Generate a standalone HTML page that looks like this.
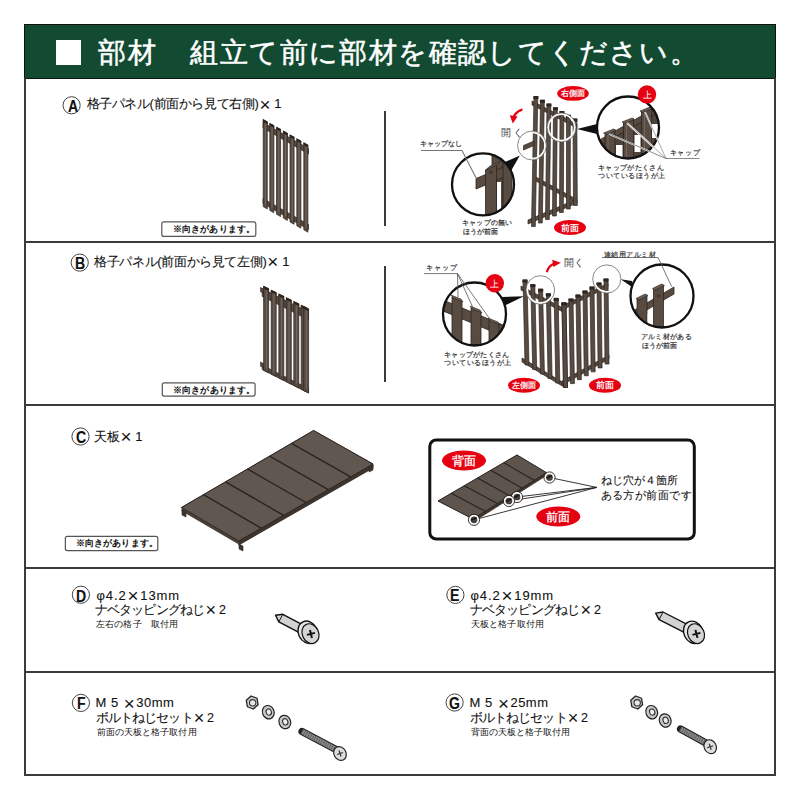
<!DOCTYPE html>
<html lang="ja"><head><meta charset="utf-8">
<style>
html,body{margin:0;padding:0;background:#fff;}
body{width:800px;height:800px;position:relative;overflow:hidden;font-family:"Liberation Sans",sans-serif;color:#231815;}
.a{position:absolute;white-space:nowrap;line-height:1;-webkit-text-stroke:0.1px currentColor;}
.x{font-size:1.45em;vertical-align:-0.12em;margin:0 1px;line-height:0;-webkit-text-stroke:0;}
.hl{position:absolute;background:#3e3a39;height:2px;}
.vl{position:absolute;background:#3e3a39;width:2px;}
.hdr{position:absolute;left:24px;top:24px;width:750px;height:53px;background:#124b32;border:1px solid #111;}
.sq{position:absolute;left:56px;top:40px;width:25px;height:25px;background:#fff;}
.ttl{position:absolute;left:98px;top:39px;font-size:28px;letter-spacing:1.6px;color:#fff;-webkit-text-stroke:0.5px #fff;line-height:1;white-space:nowrap;}
.circ{position:absolute;width:17px;height:17px;border:1px solid #555;border-radius:50%;font-weight:bold;font-size:15px;text-align:center;line-height:17px;color:#111;}
.note{position:absolute;border:1px solid #444;border-radius:2px;width:93px;height:14px;font-size:9px;font-weight:bold;line-height:14px;text-align:center;}
</style></head><body>
<div class="hdr"></div>
<div class="sq"></div>
<div class="ttl">部材　<span style="margin-left:3.5px;letter-spacing:1.4px">組立て前に部材を確認してください。</span></div>
<div class="vl" style="left:24px;top:78px;height:698px;"></div>
<div class="vl" style="left:774px;top:78px;height:698px;"></div>
<div class="hl" style="left:24px;top:241px;width:752px;"></div>
<div class="hl" style="left:24px;top:404px;width:752px;"></div>
<div class="hl" style="left:24px;top:567px;width:752px;"></div>
<div class="hl" style="left:24px;top:671px;width:752px;"></div>
<div class="hl" style="left:24px;top:774px;width:752px;"></div>
<div class="vl" style="left:399px;top:568px;height:207px;background:#595757;z-index:-1;"></div>
<div class="vl" style="left:384px;top:111px;height:115px;"></div>
<div class="vl" style="left:384px;top:266px;height:116px;"></div>
<svg width="800" height="800" style="position:absolute;left:0;top:0"><polygon points="263.00,122.50 308.50,148.53 308.50,154.03 263.00,128.00" fill="#574b42" stroke="#2e2520" stroke-width="0.7" /><polygon points="263.00,198.50 308.50,224.53 308.50,229.53 263.00,203.50" fill="#574b42" stroke="#2e2520" stroke-width="0.7" /><polygon points="263.20,119.61 267.30,121.96 267.30,208.96 263.20,206.61" fill="#574b42" stroke="#2e2520" stroke-width="0.7" /><line x1="265.45" y1="121.61" x2="265.45" y2="204.61" stroke="#7d7068" stroke-width="0.8"/><polygon points="262.90,119.11 267.60,121.46 267.60,124.16 262.90,121.81" fill="#2e2520" /><polygon points="269.80,123.39 273.90,125.73 273.90,212.73 269.80,210.39" fill="#574b42" stroke="#2e2520" stroke-width="0.7" /><line x1="272.06" y1="125.39" x2="272.06" y2="208.39" stroke="#7d7068" stroke-width="0.8"/><polygon points="269.50,122.89 274.20,125.23 274.20,127.93 269.50,125.59" fill="#2e2520" /><polygon points="276.50,127.22 280.60,129.57 280.60,216.57 276.50,214.22" fill="#574b42" stroke="#2e2520" stroke-width="0.7" /><line x1="278.75" y1="129.22" x2="278.75" y2="212.22" stroke="#7d7068" stroke-width="0.8"/><polygon points="276.20,126.72 280.90,129.07 280.90,131.77 276.20,129.42" fill="#2e2520" /><polygon points="283.30,131.11 287.40,133.46 287.40,220.46 283.30,218.11" fill="#574b42" stroke="#2e2520" stroke-width="0.7" /><line x1="285.56" y1="133.11" x2="285.56" y2="216.11" stroke="#7d7068" stroke-width="0.8"/><polygon points="283.00,130.61 287.70,132.96 287.70,135.66 283.00,133.31" fill="#2e2520" /><polygon points="290.00,134.94 294.10,137.29 294.10,224.29 290.00,221.94" fill="#574b42" stroke="#2e2520" stroke-width="0.7" /><line x1="292.25" y1="136.94" x2="292.25" y2="219.94" stroke="#7d7068" stroke-width="0.8"/><polygon points="289.70,134.44 294.40,136.79 294.40,139.49 289.70,137.14" fill="#2e2520" /><polygon points="296.80,138.83 300.90,141.18 300.90,228.18 296.80,225.83" fill="#574b42" stroke="#2e2520" stroke-width="0.7" /><line x1="299.06" y1="140.83" x2="299.06" y2="223.83" stroke="#7d7068" stroke-width="0.8"/><polygon points="296.50,138.33 301.20,140.68 301.20,143.38 296.50,141.03" fill="#2e2520" /><polygon points="303.80,142.84 307.90,145.18 307.90,232.18 303.80,229.84" fill="#574b42" stroke="#2e2520" stroke-width="0.7" /><line x1="306.06" y1="144.84" x2="306.06" y2="227.84" stroke="#7d7068" stroke-width="0.8"/><polygon points="303.50,142.34 308.20,144.68 308.20,147.38 303.50,145.04" fill="#2e2520" />
<polygon points="262.20,288.60 308.50,311.98 308.50,319.78 262.20,296.40" fill="#574b42" stroke="#2e2520" stroke-width="0.7" /><polygon points="262.20,365.20 308.50,388.58 308.50,392.98 262.20,369.60" fill="#574b42" stroke="#2e2520" stroke-width="0.7" /><polygon points="260.50,287.50 264.00,289.30 264.00,293.50 260.50,291.70" fill="#574b42" stroke="#2e2520" stroke-width="0.6" /><polygon points="260.50,362.00 264.00,363.80 264.00,368.00 260.50,366.20" fill="#574b42" stroke="#2e2520" stroke-width="0.6" /><polygon points="263.60,286.31 268.60,288.83 268.60,372.83 263.60,370.31" fill="#574b42" stroke="#2e2520" stroke-width="0.7" /><line x1="266.35" y1="288.31" x2="266.35" y2="368.31" stroke="#7d7068" stroke-width="0.8"/><polygon points="263.30,285.81 268.90,288.33 268.90,291.03 263.30,288.51" fill="#2e2520" /><polygon points="271.20,290.15 276.20,292.67 276.20,376.67 271.20,374.15" fill="#574b42" stroke="#2e2520" stroke-width="0.7" /><line x1="273.95" y1="292.15" x2="273.95" y2="372.15" stroke="#7d7068" stroke-width="0.8"/><polygon points="270.90,289.65 276.50,292.17 276.50,294.87 270.90,292.35" fill="#2e2520" /><polygon points="278.80,293.98 283.80,296.51 283.80,380.51 278.80,377.98" fill="#574b42" stroke="#2e2520" stroke-width="0.7" /><line x1="281.55" y1="295.98" x2="281.55" y2="375.98" stroke="#7d7068" stroke-width="0.8"/><polygon points="278.50,293.48 284.10,296.01 284.10,298.71 278.50,296.18" fill="#2e2520" /><polygon points="286.30,297.77 291.30,300.30 291.30,384.30 286.30,381.77" fill="#574b42" stroke="#2e2520" stroke-width="0.7" /><line x1="289.05" y1="299.77" x2="289.05" y2="379.77" stroke="#7d7068" stroke-width="0.8"/><polygon points="286.00,297.27 291.60,299.80 291.60,302.50 286.00,299.97" fill="#2e2520" /><polygon points="293.80,301.56 298.80,304.08 298.80,388.08 293.80,385.56" fill="#574b42" stroke="#2e2520" stroke-width="0.7" /><line x1="296.55" y1="303.56" x2="296.55" y2="383.56" stroke="#7d7068" stroke-width="0.8"/><polygon points="293.50,301.06 299.10,303.58 299.10,306.28 293.50,303.76" fill="#2e2520" /><polygon points="301.20,305.30 306.20,307.82 306.20,391.82 301.20,389.30" fill="#574b42" stroke="#2e2520" stroke-width="0.7" /><line x1="303.95" y1="307.30" x2="303.95" y2="387.30" stroke="#7d7068" stroke-width="0.8"/><polygon points="300.90,304.80 306.50,307.32 306.50,310.02 300.90,307.50" fill="#2e2520" /><polygon points="303.60,306.51 308.60,309.03 308.60,393.03 303.60,390.51" fill="#574b42" stroke="#2e2520" stroke-width="0.7" /><line x1="306.35" y1="308.51" x2="306.35" y2="388.51" stroke="#7d7068" stroke-width="0.8"/><polygon points="303.30,306.01 308.90,308.53 308.90,311.23 303.30,308.71" fill="#2e2520" />
<polygon points="181.50,507.50 238.80,541.00 238.80,545.00 373.00,468.00 373.00,464.00 313.60,430.50" fill="#3d342e" stroke="#2e2520" stroke-width="0.8" />
<polygon points="181.50,507.50 181.50,511.00 238.80,544.50 238.80,541.00" fill="#4a403a" />
<polygon points="181.50,507.50 313.60,430.50 373.00,464.00 238.80,541.00" fill="#605750" stroke="#2e2520" stroke-width="0.9" />
<line x1="203.52" y1="494.67" x2="261.17" y2="528.17" stroke="#2a2320" stroke-width="1.4"/>
<line x1="225.53" y1="481.83" x2="283.53" y2="515.33" stroke="#2a2320" stroke-width="1.4"/>
<line x1="247.55" y1="469.00" x2="305.90" y2="502.50" stroke="#2a2320" stroke-width="1.4"/>
<line x1="269.57" y1="456.17" x2="328.27" y2="489.67" stroke="#2a2320" stroke-width="1.4"/>
<line x1="291.58" y1="443.33" x2="350.63" y2="476.83" stroke="#2a2320" stroke-width="1.4"/>
<polygon points="182.00,510.00 186.00,512.00 186.00,517.00 182.00,515.00" fill="#3d342e" stroke="#2e2520" stroke-width="0.6" />
<polygon points="239.00,544.00 243.00,546.00 243.00,551.00 239.00,549.00" fill="#3d342e" stroke="#2e2520" stroke-width="0.6" />
<polygon points="369.00,467.00 373.00,465.00 373.00,470.00 369.00,472.00" fill="#3d342e" stroke="#2e2520" stroke-width="0.6" />
<rect x="429.8" y="440" width="264.5" height="99" rx="6.5" fill="none" stroke="#111" stroke-width="3"/>
<polygon points="438.10,501.00 473.00,519.00 473.00,522.00 546.30,475.60 546.30,472.60 517.00,455.00" fill="#3d342e" stroke="#2e2520" stroke-width="0.7" />
<polygon points="438.10,501.00 517.00,455.00 546.30,472.60 473.00,519.00" fill="#5d544e" stroke="#2e2520" stroke-width="0.8" />
<line x1="451.25" y1="493.33" x2="485.22" y2="511.27" stroke="#2a2320" stroke-width="1.2"/>
<line x1="464.40" y1="485.67" x2="497.43" y2="503.53" stroke="#2a2320" stroke-width="1.2"/>
<line x1="477.55" y1="478.00" x2="509.65" y2="495.80" stroke="#2a2320" stroke-width="1.2"/>
<line x1="490.70" y1="470.33" x2="521.87" y2="488.07" stroke="#2a2320" stroke-width="1.2"/>
<line x1="503.85" y1="462.67" x2="534.08" y2="480.33" stroke="#2a2320" stroke-width="1.2"/>
<line x1="549.5" y1="477.5" x2="596.8" y2="487.4" stroke="#222" stroke-width="0.9"/>
<line x1="517" y1="497" x2="596.8" y2="487.4" stroke="#222" stroke-width="0.9"/>
<line x1="508.9" y1="501" x2="596.8" y2="487.4" stroke="#222" stroke-width="0.9"/>
<line x1="474" y1="519.8" x2="596.8" y2="487.4" stroke="#222" stroke-width="0.9"/>
<circle cx="549.5" cy="477.5" r="4.3" fill="#4a403a" stroke="#fff" stroke-width="1.9"/>
<path d="M546.5,478.0 L552.0,475.5" stroke="#1d1714" stroke-width="1.6"/>
<circle cx="549.5" cy="477.5" r="5.6" fill="none" stroke="#222" stroke-width="0.9"/>
<circle cx="517" cy="497" r="4.3" fill="#4a403a" stroke="#fff" stroke-width="1.9"/>
<path d="M514,497.5 L519.5,495" stroke="#1d1714" stroke-width="1.6"/>
<circle cx="517" cy="497" r="5.6" fill="none" stroke="#222" stroke-width="0.9"/>
<circle cx="508.9" cy="501" r="4.3" fill="#4a403a" stroke="#fff" stroke-width="1.9"/>
<path d="M505.9,501.5 L511.4,499" stroke="#1d1714" stroke-width="1.6"/>
<circle cx="508.9" cy="501" r="5.6" fill="none" stroke="#222" stroke-width="0.9"/>
<circle cx="474" cy="519.8" r="4.3" fill="#4a403a" stroke="#fff" stroke-width="1.9"/>
<path d="M471,520.3 L476.5,517.8" stroke="#1d1714" stroke-width="1.6"/>
<circle cx="474" cy="519.8" r="5.6" fill="none" stroke="#222" stroke-width="0.9"/>
<ellipse cx="464" cy="460.5" rx="22" ry="10" fill="#e50012"/>
<text x="464" y="464.8" font-family="Liberation Sans, sans-serif" font-size="12" fill="#fff" stroke="#fff" stroke-width="0.3" text-anchor="middle">背面</text>
<ellipse cx="558.3" cy="516.5" rx="22" ry="10" fill="#e50012"/>
<text x="558.3" y="520.8" font-family="Liberation Sans, sans-serif" font-size="12" fill="#fff" stroke="#fff" stroke-width="0.3" text-anchor="middle">前面</text>
<polygon points="532.00,101.00 577.00,124.00 577.00,128.00 532.00,105.00" fill="#574b42" stroke="#2e2520" stroke-width="0.7" /><polygon points="534.00,176.00 576.00,199.00 576.00,203.00 534.00,180.00" fill="#574b42" stroke="#2e2520" stroke-width="0.7" /><polygon points="528.00,220.00 577.00,199.00 577.00,203.00 528.00,224.00" fill="#574b42" stroke="#2e2520" stroke-width="0.7" /><polygon points="534.00,96.50 537.80,96.50 535.30,226.50 531.50,226.50" fill="#574b42" stroke="#2e2520" stroke-width="0.7" /><polygon points="533.40,96.00 538.40,96.00 538.40,99.00 533.40,99.00" fill="#2e2520" /><polygon points="540.50,100.25 544.30,100.25 542.30,223.00 538.50,223.00" fill="#574b42" stroke="#2e2520" stroke-width="0.7" /><polygon points="539.90,99.75 544.90,99.75 544.90,102.75 539.90,102.75" fill="#2e2520" /><polygon points="547.00,104.00 550.80,104.00 549.30,219.50 545.50,219.50" fill="#574b42" stroke="#2e2520" stroke-width="0.7" /><polygon points="546.40,103.50 551.40,103.50 551.40,106.50 546.40,106.50" fill="#2e2520" /><polygon points="553.50,107.75 557.30,107.75 556.30,216.00 552.50,216.00" fill="#574b42" stroke="#2e2520" stroke-width="0.7" /><polygon points="552.90,107.25 557.90,107.25 557.90,110.25 552.90,110.25" fill="#2e2520" /><polygon points="560.00,111.50 563.80,111.50 563.30,212.50 559.50,212.50" fill="#574b42" stroke="#2e2520" stroke-width="0.7" /><polygon points="559.40,111.00 564.40,111.00 564.40,114.00 559.40,114.00" fill="#2e2520" /><polygon points="566.50,115.25 570.30,115.25 570.30,209.00 566.50,209.00" fill="#574b42" stroke="#2e2520" stroke-width="0.7" /><polygon points="565.90,114.75 570.90,114.75 570.90,117.75 565.90,117.75" fill="#2e2520" /><polygon points="573.00,119.00 576.80,119.00 577.30,205.50 573.50,205.50" fill="#574b42" stroke="#2e2520" stroke-width="0.7" /><polygon points="572.40,118.50 577.40,118.50 577.40,121.50 572.40,121.50" fill="#2e2520" />
<polygon points="521.00,286.00 563.00,308.00 563.00,312.00 521.00,290.00" fill="#574b42" stroke="#2e2520" stroke-width="0.7" /><polygon points="522.00,358.00 564.00,383.00 564.00,387.00 522.00,362.00" fill="#574b42" stroke="#2e2520" stroke-width="0.7" /><polygon points="523.00,280.00 527.00,280.00 529.00,365.00 525.00,365.00" fill="#574b42" stroke="#2e2520" stroke-width="0.7" /><polygon points="522.40,279.50 527.60,279.50 527.60,282.50 522.40,282.50" fill="#2e2520" /><polygon points="530.80,284.60 534.80,284.60 536.70,369.50 532.70,369.50" fill="#574b42" stroke="#2e2520" stroke-width="0.7" /><polygon points="530.20,284.10 535.40,284.10 535.40,287.10 530.20,287.10" fill="#2e2520" /><polygon points="538.60,289.20 542.60,289.20 544.40,374.00 540.40,374.00" fill="#574b42" stroke="#2e2520" stroke-width="0.7" /><polygon points="538.00,288.70 543.20,288.70 543.20,291.70 538.00,291.70" fill="#2e2520" /><polygon points="546.40,293.80 550.40,293.80 552.10,378.50 548.10,378.50" fill="#574b42" stroke="#2e2520" stroke-width="0.7" /><polygon points="545.80,293.30 551.00,293.30 551.00,296.30 545.80,296.30" fill="#2e2520" /><polygon points="554.20,298.40 558.20,298.40 559.80,383.00 555.80,383.00" fill="#574b42" stroke="#2e2520" stroke-width="0.7" /><polygon points="553.60,297.90 558.80,297.90 558.80,300.90 553.60,300.90" fill="#2e2520" /><polygon points="562.00,303.00 566.00,303.00 567.50,387.50 563.50,387.50" fill="#574b42" stroke="#2e2520" stroke-width="0.7" /><polygon points="561.40,302.50 566.60,302.50 566.60,305.50 561.40,305.50" fill="#2e2520" />
<polygon points="562.00,306.00 608.00,283.00 608.00,287.00 562.00,310.00" fill="#574b42" stroke="#2e2520" stroke-width="0.7" /><polygon points="562.00,381.00 609.00,355.00 609.00,359.00 562.00,385.00" fill="#574b42" stroke="#2e2520" stroke-width="0.7" /><polygon points="562.00,303.00 566.00,303.00 567.50,387.50 563.50,387.50" fill="#574b42" stroke="#2e2520" stroke-width="0.7" /><polygon points="561.40,302.50 566.60,302.50 566.60,305.50 561.40,305.50" fill="#2e2520" /><polygon points="569.00,299.00 573.00,299.00 574.42,383.58 570.42,383.58" fill="#574b42" stroke="#2e2520" stroke-width="0.7" /><polygon points="568.40,298.50 573.60,298.50 573.60,301.50 568.40,301.50" fill="#2e2520" /><polygon points="576.00,295.00 580.00,295.00 581.33,379.67 577.33,379.67" fill="#574b42" stroke="#2e2520" stroke-width="0.7" /><polygon points="575.40,294.50 580.60,294.50 580.60,297.50 575.40,297.50" fill="#2e2520" /><polygon points="583.00,291.00 587.00,291.00 588.25,375.75 584.25,375.75" fill="#574b42" stroke="#2e2520" stroke-width="0.7" /><polygon points="582.40,290.50 587.60,290.50 587.60,293.50 582.40,293.50" fill="#2e2520" /><polygon points="590.00,287.00 594.00,287.00 595.17,371.83 591.17,371.83" fill="#574b42" stroke="#2e2520" stroke-width="0.7" /><polygon points="589.40,286.50 594.60,286.50 594.60,289.50 589.40,289.50" fill="#2e2520" /><polygon points="597.00,283.00 601.00,283.00 602.08,367.92 598.08,367.92" fill="#574b42" stroke="#2e2520" stroke-width="0.7" /><polygon points="596.40,282.50 601.60,282.50 601.60,285.50 596.40,285.50" fill="#2e2520" /><polygon points="604.00,279.00 608.00,279.00 609.00,364.00 605.00,364.00" fill="#574b42" stroke="#2e2520" stroke-width="0.7" /><polygon points="603.40,278.50 608.60,278.50 608.60,281.50 603.40,281.50" fill="#2e2520" />
<polygon points="523.50,145.50 534.00,141.00 534.00,145.50 523.50,150.00" fill="#574b42" stroke="#2e2520" stroke-width="0.7" />
<circle cx="532" cy="145.5" r="13.3" fill="none" stroke="#fff" stroke-width="2.2"/>
<circle cx="532" cy="145.5" r="14.4" fill="none" stroke="#555" stroke-width="0.7"/>
<circle cx="561.5" cy="127.4" r="13.4" fill="none" stroke="#fff" stroke-width="2.2"/>
<circle cx="561.5" cy="127.4" r="14.5" fill="none" stroke="#555" stroke-width="0.7"/>
<circle cx="540.3" cy="290" r="13.2" fill="none" stroke="#fff" stroke-width="2.2"/>
<circle cx="540.3" cy="290" r="14.299999999999999" fill="none" stroke="#555" stroke-width="0.7"/>
<circle cx="606.8" cy="279" r="13" fill="none" stroke="#fff" stroke-width="2.2"/>
<circle cx="606.8" cy="279" r="14.1" fill="none" stroke="#555" stroke-width="0.7"/>
<polygon points="519.80,155.40 505.00,162.00 511.00,171.00" fill="#111" />
<polygon points="577.00,129.00 597.00,124.00 597.00,134.00" fill="#111" />
<polygon points="524.00,296.30 502.00,297.00 504.00,306.00" fill="#111" />
<polygon points="620.70,279.20 632.00,281.00 633.50,288.00" fill="#111" />
<clipPath id="c1"><circle cx="483" cy="184.4" r="31"/></clipPath><circle cx="483" cy="184.4" r="31" fill="#fff"/><g clip-path="url(#c1)"><polygon points="492.00,150.00 503.00,146.00 503.00,230.00 492.00,230.00" fill="#574b42" stroke="#2e2520" stroke-width="0.8" /><polygon points="476.00,178.50 512.00,163.50 512.00,174.00 476.00,189.00" fill="#574b42" stroke="#2e2520" stroke-width="0.8" /><polygon points="485.50,170.00 496.50,165.00 496.50,230.00 485.50,230.00" fill="#574b42" stroke="#2e2520" stroke-width="0.8" /><polygon points="485.50,170.00 490.00,166.00 501.00,161.00 496.50,165.00" fill="#6b5e55" stroke="#2e2520" stroke-width="0.6" /><rect x="497" y="182" width="4" height="40" fill="#fff"/><circle cx="491" cy="172" r="1.4" fill="none" stroke="#2a2320" stroke-width="0.6"/><polygon points="503.00,160.00 512.00,156.00 512.00,230.00 503.00,230.00" fill="#574b42" stroke="#2e2520" stroke-width="0.8" /></g><circle cx="483" cy="184.4" r="31" fill="none" stroke="#111" stroke-width="2.3"/>
<clipPath id="c2"><circle cx="628" cy="127.5" r="31"/></clipPath><circle cx="628" cy="127.5" r="31" fill="#fff"/><g clip-path="url(#c2)"><polygon points="596.00,146.00 662.00,108.00 662.00,175.00 596.00,175.00" fill="#4e433b" /><polygon points="596.00,142.00 662.00,104.00 662.00,110.00 596.00,148.00" fill="#574b42" stroke="#2e2520" stroke-width="0.8" /><polygon points="605.00,133.50 615.00,129.50 615.00,203.50 605.00,203.50" fill="#574b42" stroke="#2e2520" stroke-width="0.8" /><line x1="608" y1="134.5" x2="608" y2="203.5" stroke="#7d7068" stroke-width="0.8"/><polygon points="603.50,133.00 613.50,129.00 616.00,130.50 606.00,134.50" fill="#6b5e55" stroke="#2e2520" stroke-width="0.6" /><polygon points="623.50,122.50 633.50,118.50 633.50,192.50 623.50,192.50" fill="#574b42" stroke="#2e2520" stroke-width="0.8" /><line x1="626.5" y1="123.5" x2="626.5" y2="192.5" stroke="#7d7068" stroke-width="0.8"/><polygon points="622.00,122.00 632.00,118.00 634.50,119.50 624.50,123.50" fill="#6b5e55" stroke="#2e2520" stroke-width="0.6" /><polygon points="641.50,111.50 651.50,107.50 651.50,181.50 641.50,181.50" fill="#574b42" stroke="#2e2520" stroke-width="0.8" /><line x1="644.5" y1="112.5" x2="644.5" y2="181.5" stroke="#7d7068" stroke-width="0.8"/><polygon points="640.00,111.00 650.00,107.00 652.50,108.50 642.50,112.50" fill="#6b5e55" stroke="#2e2520" stroke-width="0.6" /><rect x="616" y="145" width="6.5" height="20" fill="#fff"/><rect x="634.5" y="135" width="6" height="17" fill="#fff"/><rect x="652" y="124" width="8" height="14" fill="#fff"/></g><circle cx="628" cy="127.5" r="31" fill="none" stroke="#111" stroke-width="2.3"/>
<line x1="609" y1="134" x2="666" y2="158.5" stroke="#fff" stroke-width="1.8"/>
<line x1="627" y1="123" x2="666" y2="158.5" stroke="#fff" stroke-width="1.8"/>
<line x1="645" y1="112" x2="666" y2="158.5" stroke="#fff" stroke-width="1.8"/>
<polyline points="608,133.5 666,158.5 699.5,158.5" fill="none" stroke="#555" stroke-width="0.7"/>
<line x1="627" y1="123" x2="666" y2="158.5" stroke="#555" stroke-width="0.5"/><line x1="645" y1="112" x2="666" y2="158.5" stroke="#555" stroke-width="0.5"/>
<clipPath id="c3"><circle cx="474.5" cy="314" r="31.5"/></clipPath><circle cx="474.5" cy="314" r="31.5" fill="#fff"/><g clip-path="url(#c3)"><polygon points="436.00,297.00 510.00,328.00 510.00,339.00 436.00,308.00" fill="#574b42" stroke="#2e2520" stroke-width="0.8" /><polygon points="452.00,297.00 462.00,301.00 462.00,367.00 452.00,367.00" fill="#574b42" stroke="#2e2520" stroke-width="0.8" /><polygon points="451.00,295.00 461.00,299.00 463.00,302.00 453.00,298.00" fill="#6b5e55" stroke="#2e2520" stroke-width="0.6" /><polygon points="471.00,308.00 481.00,312.00 481.00,378.00 471.00,378.00" fill="#574b42" stroke="#2e2520" stroke-width="0.8" /><polygon points="470.00,306.00 480.00,310.00 482.00,313.00 472.00,309.00" fill="#6b5e55" stroke="#2e2520" stroke-width="0.6" /><polygon points="489.00,320.00 499.00,324.00 499.00,390.00 489.00,390.00" fill="#574b42" stroke="#2e2520" stroke-width="0.8" /><polygon points="488.00,318.00 498.00,322.00 500.00,325.00 490.00,321.00" fill="#6b5e55" stroke="#2e2520" stroke-width="0.6" /><rect x="446" y="318" width="5" height="40" fill="#fff"/><rect x="464" y="328" width="6" height="40" fill="#fff"/><rect x="483" y="338" width="5" height="40" fill="#fff"/></g><circle cx="474.5" cy="314" r="31.5" fill="none" stroke="#111" stroke-width="2.3"/>
<polyline points="424,273.6 457.5,273.6 492,322" fill="none" stroke="#555" stroke-width="0.8"/>
<line x1="457.5" y1="273.6" x2="458" y2="297" stroke="#555" stroke-width="0.8"/><line x1="457.5" y1="273.6" x2="474" y2="310" stroke="#555" stroke-width="0.8"/>
<clipPath id="c4"><circle cx="662" cy="296" r="31.5"/></clipPath><circle cx="662" cy="296" r="31.5" fill="#fff"/><g clip-path="url(#c4)"><polygon points="628.00,314.00 674.00,287.00 674.00,294.00 628.00,321.00" fill="#574b42" stroke="#2e2520" stroke-width="0.8" /><polygon points="637.00,299.00 647.00,295.00 647.00,340.00 637.00,340.00" fill="#574b42" stroke="#2e2520" stroke-width="0.8" /><polygon points="653.50,289.00 663.50,285.00 663.50,340.00 653.50,340.00" fill="#574b42" stroke="#2e2520" stroke-width="0.8" /><polygon points="636.00,298.50 645.00,294.00 648.00,295.50 639.00,300.00" fill="#6b5e55" stroke="#2e2520" stroke-width="0.6" /><polygon points="652.50,288.50 661.50,284.00 664.50,285.50 655.50,290.00" fill="#6b5e55" stroke="#2e2520" stroke-width="0.6" /><rect x="647.6" y="314" width="5.4" height="30" fill="#fff"/><circle cx="658.5" cy="296" r="1.3" fill="none" stroke="#2a2320" stroke-width="0.6"/></g><circle cx="662" cy="296" r="31.5" fill="none" stroke="#111" stroke-width="2.3"/>
<polyline points="602,257.5 658,257.5 671.7,286.7" fill="none" stroke="#555" stroke-width="0.8"/>
<polyline points="421,150.5 462,150.5 476.5,178.8" fill="none" stroke="#777" stroke-width="1.1"/>
<ellipse cx="573" cy="93.4" rx="15.8" ry="7.4" fill="#e50012"/>
<text x="573" y="96.28" font-family="Liberation Sans, sans-serif" font-size="8" fill="#fff" stroke="#fff" stroke-width="0.25" text-anchor="middle">右側面</text>
<ellipse cx="570" cy="227.5" rx="16" ry="7.5" fill="#e50012"/>
<text x="570" y="230.74" font-family="Liberation Sans, sans-serif" font-size="9" fill="#fff" stroke="#fff" stroke-width="0.25" text-anchor="middle">前面</text>
<ellipse cx="524" cy="385.2" rx="16" ry="7.5" fill="#e50012"/>
<text x="524" y="388.08" font-family="Liberation Sans, sans-serif" font-size="8" fill="#fff" stroke="#fff" stroke-width="0.25" text-anchor="middle">左側面</text>
<ellipse cx="605" cy="385.2" rx="16" ry="7.5" fill="#e50012"/>
<text x="605" y="388.44" font-family="Liberation Sans, sans-serif" font-size="9" fill="#fff" stroke="#fff" stroke-width="0.25" text-anchor="middle">前面</text>
<circle cx="647" cy="94.4" r="9.2" fill="#e50012"/>
<text x="647" y="97.7" font-family="Liberation Sans, sans-serif" font-size="9" fill="#fff" text-anchor="middle">上</text>
<circle cx="494.8" cy="283.3" r="9.2" fill="#e50012"/>
<text x="494.8" y="286.6" font-family="Liberation Sans, sans-serif" font-size="9" fill="#fff" text-anchor="middle">上</text>
<path d="M521.5,109.8 Q516,111.5 513.6,117" fill="none" stroke="#e50012" stroke-width="2.3" stroke-linecap="round"/>
<polygon points="509.80,115.20 517.60,116.40 512.80,123.60" fill="#e50012" />
<path d="M547,271.3 Q549,265.5 554.5,263.5" fill="none" stroke="#e50012" stroke-width="2.2" stroke-linecap="round"/>
<polygon points="552.20,259.80 560.80,262.80 553.40,267.00" fill="#e50012" />
<polygon points="275.50,615.30 278.81,621.90 304.06,635.15 308.06,627.53 282.81,614.28" fill="#d3d3d3" stroke="#111" stroke-width="1.4" stroke-linejoin="round"/><line x1="278.81" y1="621.90" x2="282.81" y2="614.28" stroke="#111" stroke-width="1"/><ellipse cx="307.83" cy="632.27" rx="9.5" ry="11.5" transform="rotate(-25 307.83 632.27)" fill="#e6e6e6" stroke="#111" stroke-width="1.4"/><ellipse cx="310.49" cy="633.66" rx="8.2" ry="10.2" transform="rotate(-25 310.49 633.66)" fill="#d5d5d5" stroke="#111" stroke-width="1.2"/><path d="M306.92813692625424,634.8971745155411 L314.92813692625424,632.8971745155411 M309.92813692625424,629.8971745155411 L311.92813692625424,637.8971745155411" stroke="#111" stroke-width="2"/>
<polygon points="655.70,613.10 659.09,619.66 689.58,635.21 693.49,627.55 663.00,612.00" fill="#d3d3d3" stroke="#111" stroke-width="1.4" stroke-linejoin="round"/><line x1="659.09" y1="619.66" x2="663.00" y2="612.00" stroke="#111" stroke-width="1"/><ellipse cx="693.32" cy="632.29" rx="9.5" ry="11.5" transform="rotate(-25 693.32 632.29)" fill="#e6e6e6" stroke="#111" stroke-width="1.4"/><ellipse cx="695.99" cy="633.65" rx="8.2" ry="10.2" transform="rotate(-25 695.99 633.65)" fill="#d5d5d5" stroke="#111" stroke-width="1.2"/><path d="M692.4361708214155,634.881650596712 L700.4361708214155,632.881650596712 M695.4361708214155,629.881650596712 L697.4361708214155,637.881650596712" stroke="#111" stroke-width="2"/>
<polygon points="258.12,704.76 253.29,709.00 247.37,706.74 246.28,700.24 251.11,696.00 257.03,698.26" fill="#c8c8c8" stroke="#222" stroke-width="1.3" stroke-linejoin="round"/><circle cx="252.7" cy="702.8" r="3.2" fill="#e8e8e8" stroke="#333" stroke-width="1.1"/><ellipse cx="268.3" cy="712.2" rx="5.8" ry="6.8" transform="rotate(-20 268.3 712.2)" fill="#c8c8c8" stroke="#222" stroke-width="1.2"/><ellipse cx="268.8" cy="712.2" rx="2.6" ry="3.2" transform="rotate(-20 268.3 712.2)" fill="#f0f0f0" stroke="#333" stroke-width="1.1"/><ellipse cx="284.8" cy="722" rx="5.8" ry="6.8" transform="rotate(-20 284.8 722)" fill="#c8c8c8" stroke="#222" stroke-width="1.2"/><ellipse cx="285.3" cy="722" rx="2.6" ry="3.2" transform="rotate(-20 284.8 722)" fill="#f0f0f0" stroke="#333" stroke-width="1.1"/><line x1="302" y1="731.5" x2="336" y2="749.5" stroke="#222" stroke-width="7.2" stroke-linecap="round"/><line x1="302" y1="731.5" x2="336" y2="749.5" stroke="#8c8c8c" stroke-width="5.2"/><line x1="302" y1="731.5" x2="336" y2="749.5" stroke="#555" stroke-width="5.2" stroke-dasharray="0.8 1.6"/><ellipse cx="340" cy="753.5" rx="6" ry="7.2" transform="rotate(-30 340 753.5)" fill="#ddd" stroke="#222" stroke-width="1.2"/><path d="M337,754.5 L343,752.5 M339,750.5 L341,756.5" stroke="#333" stroke-width="1.2"/>
<polygon points="642.62,704.76 637.79,709.00 631.87,706.74 630.78,700.24 635.61,696.00 641.53,698.26" fill="#c8c8c8" stroke="#222" stroke-width="1.3" stroke-linejoin="round"/><circle cx="637.2" cy="702.8" r="3.2" fill="#e8e8e8" stroke="#333" stroke-width="1.1"/><ellipse cx="651.7" cy="712.2" rx="5.8" ry="6.8" transform="rotate(-20 651.7 712.2)" fill="#c8c8c8" stroke="#222" stroke-width="1.2"/><ellipse cx="652.2" cy="712.2" rx="2.6" ry="3.2" transform="rotate(-20 651.7 712.2)" fill="#f0f0f0" stroke="#333" stroke-width="1.1"/><ellipse cx="665.2" cy="720.5" rx="5.8" ry="6.8" transform="rotate(-20 665.2 720.5)" fill="#c8c8c8" stroke="#222" stroke-width="1.2"/><ellipse cx="665.7" cy="720.5" rx="2.6" ry="3.2" transform="rotate(-20 665.2 720.5)" fill="#f0f0f0" stroke="#333" stroke-width="1.1"/><line x1="680.5" y1="729" x2="705" y2="742.5" stroke="#222" stroke-width="7.2" stroke-linecap="round"/><line x1="680.5" y1="729" x2="705" y2="742.5" stroke="#8c8c8c" stroke-width="5.2"/><line x1="680.5" y1="729" x2="705" y2="742.5" stroke="#555" stroke-width="5.2" stroke-dasharray="0.8 1.6"/><ellipse cx="710.2" cy="746.7" rx="6" ry="7.2" transform="rotate(-30 710.2 746.7)" fill="#ddd" stroke="#222" stroke-width="1.2"/><path d="M707.2,747.7 L713.2,745.7 M709.2,743.7 L711.2,749.7" stroke="#333" stroke-width="1.2"/>
<circle cx="71.6" cy="105.3" r="8.6" fill="none" stroke="#444" stroke-width="1"/>
<circle cx="79.7" cy="262.6" r="8.6" fill="none" stroke="#444" stroke-width="1"/>
<circle cx="80.5" cy="436.5" r="8.6" fill="none" stroke="#444" stroke-width="1"/>
<circle cx="80.9" cy="594.75" r="8.6" fill="none" stroke="#444" stroke-width="1"/>
<circle cx="455.4" cy="594.9" r="8.6" fill="none" stroke="#444" stroke-width="1"/>
<circle cx="80.9" cy="702.9" r="8.6" fill="none" stroke="#444" stroke-width="1"/>
<circle cx="454.6" cy="702.5" r="8.6" fill="none" stroke="#444" stroke-width="1"/>
<rect x="161.79999999999998" y="221.79999999999998" width="94.00" height="14.60" rx="2" fill="none" stroke="#555" stroke-width="1.2"/>
<rect x="162.29999999999998" y="382.8" width="92.80" height="13.30" rx="2" fill="none" stroke="#555" stroke-width="1.2"/>
<rect x="65.35" y="536.4" width="92.45" height="14.20" rx="2" fill="none" stroke="#555" stroke-width="1.2"/></svg>
<div class="a" style="left:86.5px;top:97.4px;font-size:13.0px;letter-spacing:-0.38px;font-weight:normal;color:#111;">格子パネル(前面から見て右側)<span class=x>×</span> 1</div>
<div class="a" style="left:94.1px;top:254.6px;font-size:13.0px;letter-spacing:-0.36px;font-weight:normal;color:#111;">格子パネル(前面から見て左側)<span class=x>×</span> 1</div>
<div class="a" style="left:94.0px;top:429.5px;font-size:13.0px;letter-spacing:-0.32px;font-weight:normal;color:#111;">天板<span class=x>×</span> 1</div>
<div class="a" style="left:96.6px;top:588.6px;font-size:13.0px;letter-spacing:0.84px;font-weight:normal;color:#111;">φ4.2<span class=x>×</span>13mm</div>
<div class="a" style="left:94.6px;top:603.8px;font-size:12.5px;letter-spacing:-0.78px;font-weight:normal;color:#111;">ナベタッピングねじ<span class=x>×</span> 2</div>
<div class="a" style="left:96.0px;top:619.7px;font-size:9.0px;letter-spacing:0.16px;font-weight:normal;color:#111;-webkit-text-stroke:0;">左右の格子　取付用</div>
<div class="a" style="left:470.6px;top:588.6px;font-size:13.0px;letter-spacing:0.84px;font-weight:normal;color:#111;">φ4.2<span class=x>×</span>19mm</div>
<div class="a" style="left:469.6px;top:603.8px;font-size:12.5px;letter-spacing:-0.78px;font-weight:normal;color:#111;">ナベタッピングねじ<span class=x>×</span> 2</div>
<div class="a" style="left:470.6px;top:619.7px;font-size:9.0px;letter-spacing:0.19px;font-weight:normal;color:#111;-webkit-text-stroke:0;">天板と格子取付用</div>
<div class="a" style="left:95.6px;top:696.4px;font-size:13.0px;letter-spacing:0.49px;font-weight:normal;color:#111;">M 5 <span class=x>×</span>30mm</div>
<div class="a" style="left:95.6px;top:711.6px;font-size:12.5px;letter-spacing:-0.87px;font-weight:normal;color:#111;">ボルトねじセット<span class=x>×</span> 2</div>
<div class="a" style="left:96.6px;top:727.5px;font-size:9.0px;letter-spacing:0.1px;font-weight:normal;color:#111;-webkit-text-stroke:0;">前面の天板と格子取付用</div>
<div class="a" style="left:469.6px;top:696.4px;font-size:13.0px;letter-spacing:0.5px;font-weight:normal;color:#111;">M 5 <span class=x>×</span>25mm</div>
<div class="a" style="left:469.6px;top:711.6px;font-size:12.5px;letter-spacing:-0.86px;font-weight:normal;color:#111;">ボルトねじセット<span class=x>×</span> 2</div>
<div class="a" style="left:470.6px;top:727.5px;font-size:9.0px;letter-spacing:0.0px;font-weight:normal;color:#111;-webkit-text-stroke:0;">背面の天板と格子取付用</div>
<div class="a" style="left:420.0px;top:139.8px;font-size:7.0px;letter-spacing:0.0px;font-weight:normal;color:#111;-webkit-text-stroke:0.2px #333;color:#333;">キャップなし</div>
<div class="a" style="left:461.7px;top:219.0px;font-size:7.0px;letter-spacing:0.3px;font-weight:normal;color:#111;-webkit-text-stroke:0.2px #333;color:#333;">キャップの無い</div>
<div class="a" style="left:462.7px;top:227.7px;font-size:7.0px;letter-spacing:0.0px;font-weight:normal;color:#111;-webkit-text-stroke:0.2px #333;color:#333;">ほうが前面</div>
<div class="a" style="left:669.7px;top:148.8px;font-size:7.0px;letter-spacing:0.73px;font-weight:normal;color:#111;-webkit-text-stroke:0.2px #333;color:#333;">キャップ</div>
<div class="a" style="left:597.9px;top:164.0px;font-size:7.0px;letter-spacing:0.35px;font-weight:normal;color:#111;-webkit-text-stroke:0.2px #333;color:#333;">キャップがたくさん</div>
<div class="a" style="left:598.0px;top:172.2px;font-size:7.0px;letter-spacing:0.5px;font-weight:normal;color:#111;-webkit-text-stroke:0.2px #333;color:#333;">ついているほうが上</div>
<div class="a" style="left:425.5px;top:264.4px;font-size:7.0px;letter-spacing:1.0px;font-weight:normal;color:#111;-webkit-text-stroke:0.2px #333;color:#333;">キャップ</div>
<div class="a" style="left:444.0px;top:350.6px;font-size:7.0px;letter-spacing:0.25px;font-weight:normal;color:#111;-webkit-text-stroke:0.2px #333;color:#333;">キャップがたくさん</div>
<div class="a" style="left:444.0px;top:358.8px;font-size:7.0px;letter-spacing:0.5px;font-weight:normal;color:#111;-webkit-text-stroke:0.2px #333;color:#333;">ついているほうが上</div>
<div class="a" style="left:604.0px;top:251.0px;font-size:7.0px;letter-spacing:0.45px;font-weight:normal;color:#111;-webkit-text-stroke:0.2px #333;color:#333;">連結用アルミ材</div>
<div class="a" style="left:640.7px;top:333.0px;font-size:7.0px;letter-spacing:0.33px;font-weight:normal;color:#111;-webkit-text-stroke:0.2px #333;color:#333;">アルミ材がある</div>
<div class="a" style="left:641.7px;top:342.0px;font-size:7.0px;letter-spacing:0.0px;font-weight:normal;color:#111;-webkit-text-stroke:0.2px #333;color:#333;">ほうが前面</div>
<div class="a" style="left:501.0px;top:128.4px;font-size:10.0px;letter-spacing:2.0px;font-weight:normal;color:#3a3a3a;-webkit-text-stroke:0;">開く</div>
<div class="a" style="left:563.7px;top:258.4px;font-size:10.0px;letter-spacing:0.6px;font-weight:normal;color:#3a3a3a;-webkit-text-stroke:0;">開く</div>
<div class="a" style="left:600.5px;top:475.0px;font-size:11.0px;letter-spacing:0.0px;font-weight:normal;color:#111;">ねじ穴が４箇所</div>
<div class="a" style="left:600.5px;top:490.0px;font-size:11.0px;letter-spacing:0.43px;font-weight:normal;color:#111;">ある方が前面です</div>
<div class="a" style="left:67.7px;top:98.8px;font-size:16.0px;letter-spacing:0.0px;font-weight:bold;color:#111;display:inline-block;transform:scaleX(0.88);transform-origin:0 0;">A</div>
<div class="a" style="left:75.0px;top:255.8px;font-size:16.0px;letter-spacing:0.0px;font-weight:bold;color:#111;display:inline-block;transform:scaleX(0.88);transform-origin:0 0;">B</div>
<div class="a" style="left:76.4px;top:588.5px;font-size:16.0px;letter-spacing:0.0px;font-weight:bold;color:#111;display:inline-block;transform:scaleX(0.88);transform-origin:0 0;">D</div>
<div class="a" style="left:450.2px;top:588.2px;font-size:16.0px;letter-spacing:0.0px;font-weight:bold;color:#111;display:inline-block;transform:scaleX(0.88);transform-origin:0 0;">E</div>
<div class="a" style="left:77.2px;top:696.2px;font-size:16.0px;letter-spacing:0.0px;font-weight:bold;color:#111;display:inline-block;transform:scaleX(0.88);transform-origin:0 0;">F</div>
<div class="a" style="left:449.2px;top:696.0px;font-size:16.0px;letter-spacing:0.0px;font-weight:bold;color:#111;display:inline-block;transform:scaleX(0.88);transform-origin:0 0;">G</div>
<div class="a" style="left:173.0px;top:225.0px;font-size:9.0px;letter-spacing:0.12px;font-weight:bold;color:#111;-webkit-text-stroke:0;">※向きがあります。</div>
<div class="a" style="left:173.0px;top:385.5px;font-size:9.0px;letter-spacing:0.15px;font-weight:bold;color:#111;-webkit-text-stroke:0;">※向きがあります。</div>
<div class="a" style="left:75.7px;top:539.2px;font-size:9.0px;letter-spacing:0.16px;font-weight:bold;color:#111;-webkit-text-stroke:0;">※向きがあります。</div>
<div class="a" style="left:75.5px;top:429.8px;font-size:16.0px;letter-spacing:0.0px;font-weight:bold;color:#111;display:inline-block;transform:scaleX(0.88);transform-origin:0 0;">C</div>
</body></html>
